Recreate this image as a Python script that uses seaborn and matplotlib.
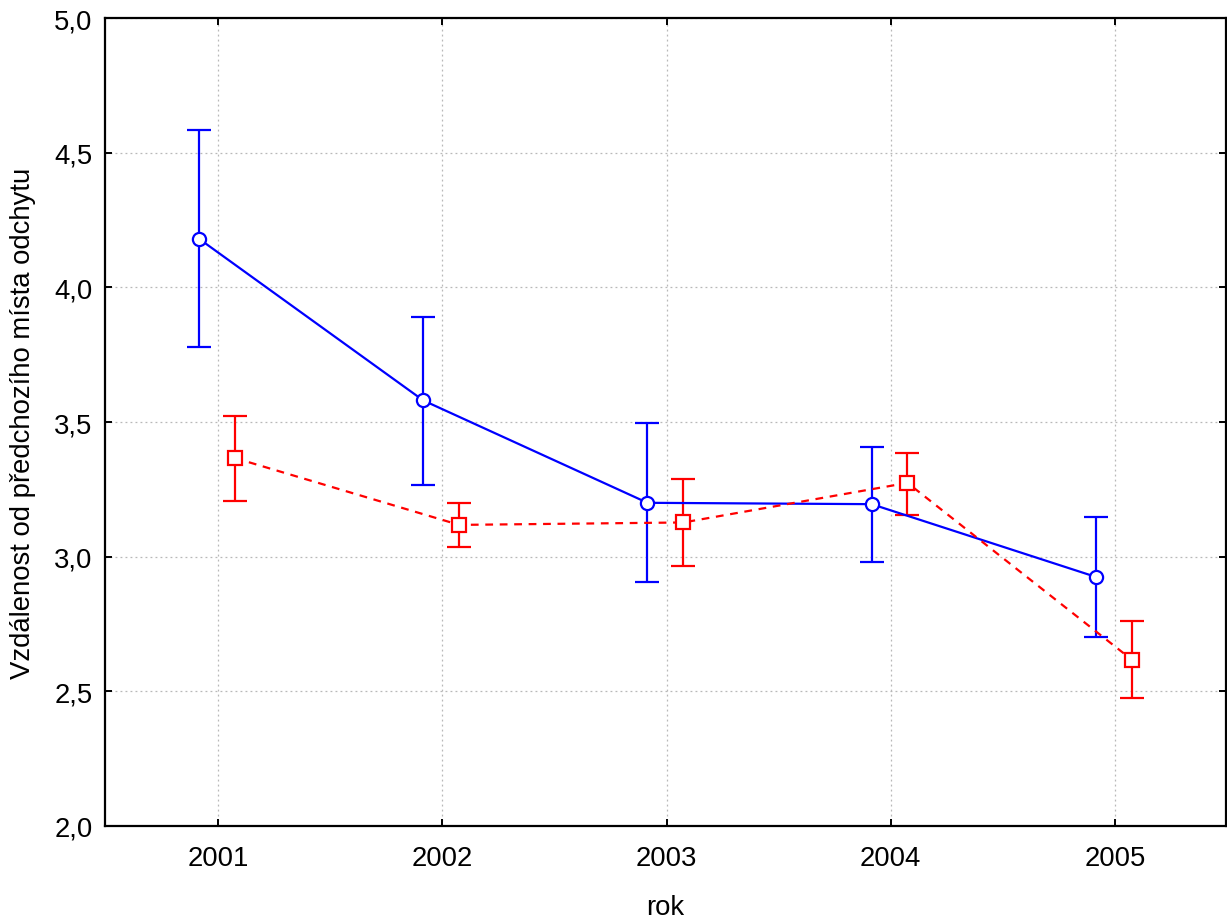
import numpy as np
import pandas as pd
import seaborn as sns
import matplotlib.pyplot as plt
from matplotlib.ticker import FuncFormatter

years = ['2001', '2002', '2003', '2004', '2005']
blue_mean = [4.18, 3.58, 3.20, 3.195, 2.925]
blue_low = [3.78, 3.265, 2.905, 2.98, 2.70]
blue_high = [4.585, 3.89, 3.497, 3.407, 3.147]
red_mean = [3.366, 3.118, 3.127, 3.274, 2.618]
red_low = [3.207, 3.036, 2.965, 3.155, 2.477]
red_high = [3.522, 3.199, 3.287, 3.385, 2.761]

sns.set_theme(style='white')
plt.rcParams['font.family'] = ['Liberation Sans', 'DejaVu Sans']

fig = plt.figure(figsize=(12.27, 9.2), dpi=100)
ax = fig.add_axes([0.0856, 0.1011, 0.9134, 0.8782])

pos = np.arange(len(years))
df = pd.DataFrame({
    'x': np.concatenate([pos - 0.085, pos + 0.075]),
    'y': blue_mean + red_mean,
    'skupina': ['a'] * 5 + ['b'] * 5,
})

sns.lineplot(data=df, x='x', y='y', hue='skupina', style='skupina',
             palette={'a': '#0000ff', 'b': '#ff0000'},
             dashes={'a': '', 'b': (3.5, 3)},
             markers={'a': 'o', 'b': 's'}, markersize=9.5,
             markerfacecolor='white', markeredgewidth=1.6,
             linewidth=1.6, legend=False, ax=ax, zorder=3)
# seaborn paints marker edges white, give them the line colour back
for ln in ax.lines:
    ln.set_markeredgecolor(ln.get_color())

for off, m, lo, hi, col in [(-0.085, blue_mean, blue_low, blue_high, '#0000ff'),
                            (0.075, red_mean, red_low, red_high, '#ff0000')]:
    m = np.array(m)
    ax.errorbar(pos + off, m, yerr=[m - np.array(lo), np.array(hi) - m],
                fmt='none', ecolor=col, elinewidth=1.6, capsize=8.5,
                capthick=1.6, zorder=2)

ax.set_xlim(-0.505, 4.495)
ax.set_ylim(2.0, 5.0)
ax.set_xticks(pos)
ax.set_xticklabels(years)
ax.set_yticks(np.arange(2.0, 5.01, 0.5))
ax.yaxis.set_major_formatter(FuncFormatter(lambda v, p: f'{v:.1f}'.replace('.', ',')))

ax.grid(True, color='#b8b8b8', linestyle=(0, (1.5, 2.5)), linewidth=0.9)
for s in ax.spines.values():
    s.set_visible(True)
    s.set_color('black')
    s.set_linewidth(1.6)
ax.tick_params(axis='both', direction='in', length=5, width=1.4, color='black',
               labelsize=19.8, labelcolor='black', top=True, right=True,
               left=True, bottom=True, pad=9)
ax.tick_params(axis='x', pad=14)

ax.set_xlabel('rok', fontsize=19.8, color='black', labelpad=16)
ax.set_ylabel('Vzdálenost od předchozího místa odchytu', fontsize=19.8,
              color='black', labelpad=13)

fig.savefig('out.png', dpi=100)
